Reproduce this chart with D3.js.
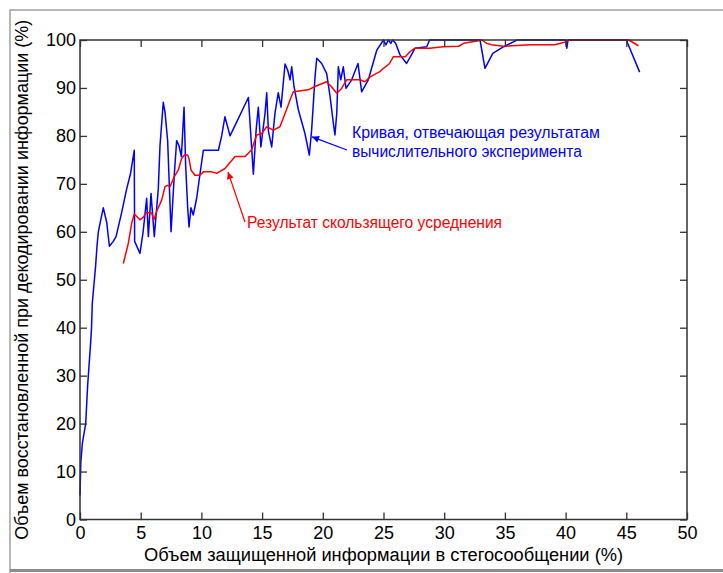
<!DOCTYPE html>
<html>
<head>
<meta charset="utf-8">
<script src="https://d3js.org/d3.v7.min.js"></script>
<style>
body { margin: 0; background: #fff; }
svg { display: block; font-family: "Liberation Sans", Arial, sans-serif; }
.axis text { font-size: 18px; fill: #000; }
.axis line { stroke: #333; stroke-width: 1.3; }
.axis path { display: none; }
</style>
</head>
<body>
<div id="graphA"></div>
<script>
// blue curve: computational experiment
var blueX = [0, 0.07, 0.2, 0.47, 0.63, 0.77, 0.88, 0.95, 1.01, 1.15, 1.29, 1.4, 1.51, 1.67, 1.92, 2.2, 2.42, 2.74, 2.97, 3.43, 3.85, 4.15, 4.47, 4.5, 4.94, 5.2, 5.49, 5.63, 5.85, 6.12, 6.45, 6.59, 6.86, 7.0, 7.22, 7.5, 7.77, 7.96, 8.15, 8.35, 8.57, 8.7, 8.87, 8.98, 9.14, 9.33, 9.61, 9.88, 10.16, 11.4, 11.67, 11.94, 12.36, 13.87, 14.28, 14.5, 14.69, 14.9, 15.24, 15.38, 15.52, 15.79, 16.06, 16.33, 16.56, 16.89, 17.11, 17.3, 17.44, 17.63, 17.99, 18.53, 18.89, 19.08, 19.36, 19.5, 19.91, 20.32, 20.6, 20.87, 21.0, 21.15, 21.28, 21.48, 21.69, 21.91, 22.38, 22.9, 23.2, 23.75, 24.45, 25.0, 25.2, 25.4, 25.6, 25.75, 26.0, 26.36, 26.9, 27.3, 27.6, 28.56, 28.8, 32.95, 33.36, 34.0, 34.9, 35.7, 36.0, 40.0, 40.1, 40.2, 45.0, 46.1];
var blueY = [5, 12, 16, 20, 28, 33, 37, 40, 45, 49, 53, 57, 60, 62, 65, 62, 57, 58, 59, 64, 69, 72, 77, 58, 55.5, 60, 67, 59, 68, 59, 69, 78, 87, 85, 79, 60, 72, 79, 78, 75.7, 86, 74, 65, 61, 65, 63.5, 67, 72, 77, 77, 80, 84, 80, 88, 72, 81, 86, 77.7, 84.7, 89, 81, 77.7, 84.7, 89, 86, 95, 93.7, 91.7, 94.4, 90.3, 85.4, 80.5, 76, 81.2, 92.3, 96.2, 95.1, 93, 88.2, 82.6, 80.2, 84.7, 94.4, 91.7, 94.4, 89.9, 91.7, 95.1, 89.2, 91.7, 97.9, 100, 99, 100, 99.3, 100, 99.3, 96.9, 95.1, 96.9, 98.3, 98.6, 100, 100, 94.1, 97.2, 98.6, 99.6, 100, 100, 98.3, 100, 100, 93.3];

// red curve: moving average
var redX = [3.57, 3.98, 4.26, 4.47, 4.94, 5.2, 5.49, 5.9, 6.08, 6.35, 6.73, 7.0, 7.2, 7.41, 7.77, 8.1, 8.37, 8.6, 8.87, 9.0, 9.14, 9.47, 9.88, 10.16, 10.85, 11.26, 11.94, 12.08, 12.77, 13.6, 14.14, 14.55, 14.97, 15.38, 15.93, 16.47, 17.0, 17.3, 17.57, 18.8, 19.36, 20.3, 20.7, 21.15, 21.55, 21.97, 23.06, 23.47, 23.9, 24.7, 25.0, 25.5, 25.8, 26.8, 27.2, 27.6, 28.8, 29.9, 31.2, 31.6, 32.7, 33.1, 33.5, 33.9, 34.9, 37.1, 39.1, 40.0, 40.3, 45.2, 46.0];
var redY = [53.4, 57.6, 61.8, 63.7, 62.5, 63, 64, 63.9, 62.5, 64.5, 66.6, 69.4, 69.7, 69.4, 71.5, 72.9, 75.3, 76, 76, 75, 72.9, 71.8, 71.8, 72.5, 72.5, 72.2, 73.2, 73.6, 75.7, 75.7, 77.1, 80.2, 80.5, 81.9, 81.2, 81.9, 85.4, 87.5, 89.2, 89.6, 90.3, 91.3, 90.3, 88.9, 89.9, 91.7, 91.7, 91.3, 92.3, 93.4, 94.1, 95.1, 96.5, 96.5, 97.6, 98.3, 98.3, 98.6, 98.7, 99.3, 99.8, 100, 99.3, 99, 98.7, 99, 99, 99.6, 100, 100, 98.8];

var xTicks = [0, 5, 10, 15, 20, 25, 30, 35, 40, 45, 50];
var yTicks = [0, 10, 20, 30, 40, 50, 60, 70, 80, 90, 100];

var xLabel = "Объем защищенной информации в стегосообщении (%)";
var yLabel = "Объем восстановленной при декодировании информации (%)";
var blueText = ["Кривая, отвечающая результатам", "вычислительного эксперимента"];
var redText = "Результат скользящего усреднения";

var W = 723, H = 573;
var pL = 80, pR = 687, pT = 40, pB = 519.5;

var x = d3.scaleLinear().domain([0, 50]).range([pL, pR]);
var y = d3.scaleLinear().domain([0, 100]).range([pB, pT]);

var svg = d3.select("#graphA").append("svg")
	.attr("width", W)
	.attr("height", H);

svg.append("rect").attr("width", W).attr("height", H).attr("fill", "#fff");

// window frame
svg.append("path")
	.attr("d", "M10," + H + " L10,10 L" + W + ",10")
	.attr("fill", "none").attr("stroke", "#a0a0a0").attr("stroke-width", 1.5);
svg.append("line")
	.attr("x1", 10).attr("x2", W).attr("y1", 570.5).attr("y2", 570.5)
	.attr("stroke", "#8c8c8c").attr("stroke-width", 3);

var defs = svg.append("defs");
function marker(id, color) {
	defs.append("marker")
		.attr("id", id)
		.attr("viewBox", "0 0 10 10")
		.attr("refX", 10).attr("refY", 5)
		.attr("markerWidth", 9).attr("markerHeight", 7)
		.attr("markerUnits", "userSpaceOnUse")
		.attr("orient", "auto")
		.append("path").attr("d", "M0,0 L10,5 L0,10 z").attr("fill", color);
}
marker("arrBlue", "#0000ff");
marker("arrRed", "#ff0000");

// data lines
var line = d3.line()
	.x(function(d) { return x(d[0]); })
	.y(function(d) { return y(d[1]); });

svg.append("path")
	.datum(d3.zip(blueX, blueY))
	.attr("d", line)
	.attr("fill", "none").attr("stroke", "#0000ff").attr("stroke-width", 1.5)
	.attr("stroke-linejoin", "round");

svg.append("path")
	.datum(d3.zip(redX, redY))
	.attr("d", line)
	.attr("fill", "none").attr("stroke", "#ff0000").attr("stroke-width", 1.5)
	.attr("stroke-linejoin", "round");

// axes box + ticks on all four sides (pointing inward)
svg.append("g").attr("class", "axis")
	.attr("transform", "translate(0," + pB + ")")
	.call(d3.axisBottom(x).tickValues(xTicks).tickSizeInner(-7).tickSizeOuter(0).tickPadding(7));
svg.append("g").attr("class", "axis")
	.attr("transform", "translate(0," + pT + ")")
	.call(d3.axisTop(x).tickValues(xTicks).tickSizeInner(-7).tickSizeOuter(0).tickFormat(""));
svg.append("g").attr("class", "axis")
	.attr("transform", "translate(" + pL + ",0)")
	.call(d3.axisLeft(y).tickValues(yTicks).tickSizeInner(-7).tickSizeOuter(0).tickPadding(4));
svg.append("g").attr("class", "axis")
	.attr("transform", "translate(" + pR + ",0)")
	.call(d3.axisRight(y).tickValues(yTicks).tickSizeInner(-7).tickSizeOuter(0).tickFormat(""));

svg.append("rect")
	.attr("x", pL).attr("y", pT)
	.attr("width", pR - pL).attr("height", pB - pT)
	.attr("fill", "none").attr("stroke", "#333").attr("stroke-width", 1.5);

// axis titles
svg.append("text")
	.attr("x", (pL + pR) / 2).attr("y", 561)
	.attr("text-anchor", "middle")
	.attr("font-size", 18)
	.attr("textLength", 479).attr("lengthAdjust", "spacingAndGlyphs")
	.text(xLabel);

svg.append("text")
	.attr("transform", "translate(28," + (pT + pB) / 2 + ") rotate(-90)")
	.attr("text-anchor", "middle")
	.attr("font-size", 18)
	.attr("textLength", 520).attr("lengthAdjust", "spacingAndGlyphs")
	.text(yLabel);

// annotations
svg.append("line")
	.attr("x1", x(21.99)).attr("y1", y(77.06))
	.attr("x2", x(19.11)).attr("y2", y(79.8))
	.attr("stroke", "#0000ff").attr("stroke-width", 1.2)
	.attr("marker-end", "url(#arrBlue)");

svg.append("line")
	.attr("x1", x(13.59)).attr("y1", y(62.04))
	.attr("x2", x(12.19)).attr("y2", y(72.47))
	.attr("stroke", "#ff0000").attr("stroke-width", 1.2)
	.attr("marker-end", "url(#arrRed)");

svg.append("text")
	.attr("x", x(22.4)).attr("y", y(79.56))
	.attr("font-size", 16).attr("fill", "#0000ff")
	.attr("textLength", 248).attr("lengthAdjust", "spacingAndGlyphs")
	.text(blueText[0]);
svg.append("text")
	.attr("x", x(22.4)).attr("y", y(75.6))
	.attr("font-size", 16).attr("fill", "#0000ff")
	.attr("textLength", 230).attr("lengthAdjust", "spacingAndGlyphs")
	.text(blueText[1]);

svg.append("text")
	.attr("x", x(13.76)).attr("y", y(60.8))
	.attr("font-size", 16).attr("fill", "#ff0000")
	.attr("textLength", 255).attr("lengthAdjust", "spacingAndGlyphs")
	.text(redText);
</script>
</body>
</html>
